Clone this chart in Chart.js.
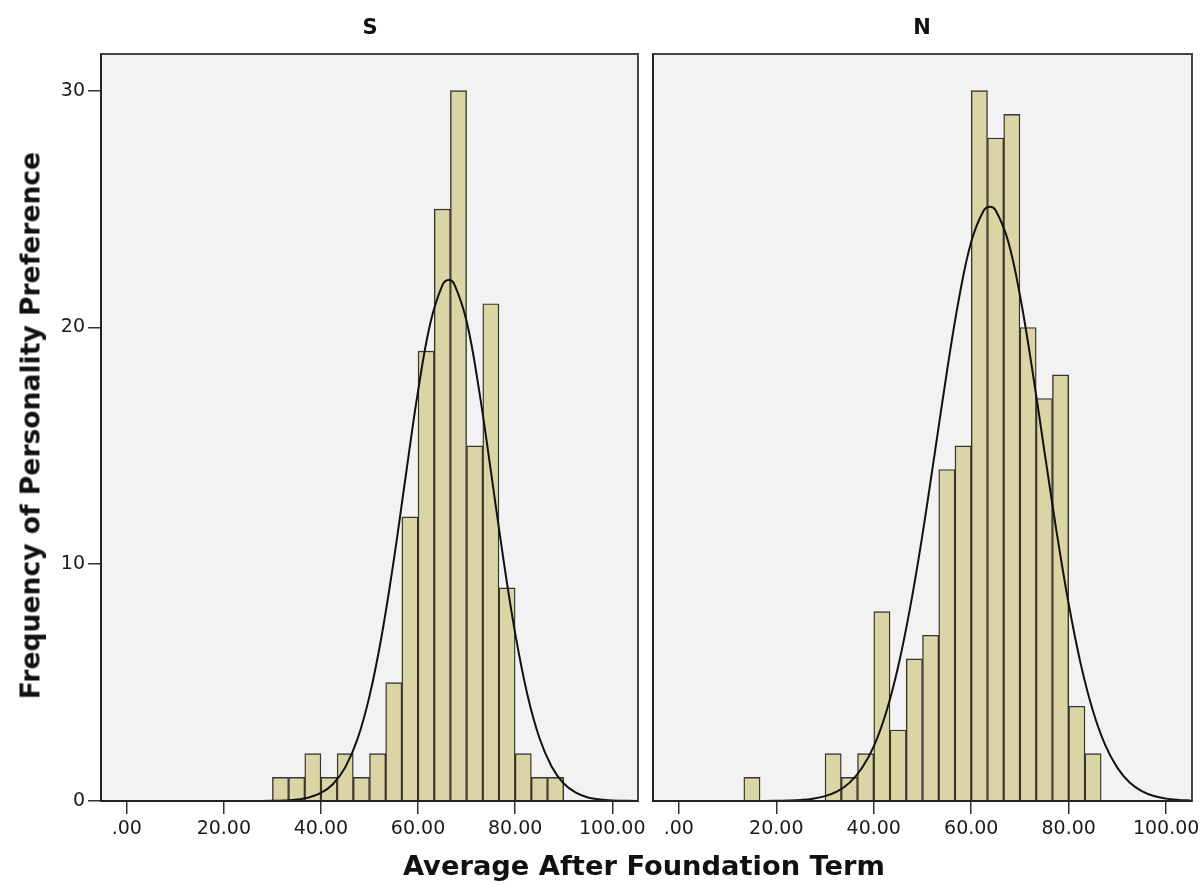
<!DOCTYPE html>
<html>
<head>
<meta charset="utf-8">
<script src="https://cdn.jsdelivr.net/npm/chart.js@4.4.1/dist/chart.umd.min.js"></script>
<style>
body{margin:0;background:#fff;width:1203px;height:886px;position:relative;overflow:hidden;font-family:"DejaVu Sans",sans-serif;}
canvas{position:absolute;top:0;}
#left{left:0;}
#right{left:645px;}
.ttl{position:absolute;font-weight:bold;color:#111;white-space:nowrap;}
</style>
</head>
<body>
<canvas id="left" width="645" height="886"></canvas>
<canvas id="right" width="558" height="886"></canvas>
<div class="ttl" style="left:320px;width:100px;text-align:center;top:15px;font-size:21px">S</div>
<div class="ttl" style="left:872px;width:100px;text-align:center;top:15px;font-size:21px">N</div>
<div class="ttl" style="left:344px;width:600px;text-align:center;top:850px;font-size:27.3px">Average After Foundation Term</div>
<div class="ttl" id="ytitle" style="left:-270px;width:600px;text-align:center;top:410px;font-size:26.6px;transform:rotate(-90deg)">Frequency of Personality Preference</div>
<script>
// histogram bins are 3.33 wide, values are bin centres
var binsS = [31.67, 35, 38.33, 41.67, 45, 48.33, 51.67, 55, 58.33, 61.67, 65, 68.33, 71.67, 75, 78.33, 81.67, 85, 88.33];
var countsS = [1, 1, 2, 1, 2, 1, 2, 5, 12, 19, 25, 30, 15, 21, 9, 2, 1, 1];

var binsN = [15, 31.67, 35, 38.33, 41.67, 45, 48.33, 51.67, 55, 58.33, 61.67, 65, 68.33, 71.67, 75, 78.33, 81.67, 85];
var countsN = [1, 2, 1, 2, 8, 3, 6, 7, 14, 15, 30, 28, 29, 20, 17, 18, 4, 2];

// normal curves
var curveS_x = [-5, 20, 25, 30, 32.5, 35, 37.5, 40, 42.5, 45, 47.5, 50, 52.5, 55, 57.5, 60, 62.5, 65, 66.3, 67.5, 70, 72.5, 75, 77.5, 80, 82.5, 85, 87.5, 90, 92.5, 95, 97.5, 100, 105];
var curveS_y = [0, 0, 0.001, 0.008, 0.022, 0.059, 0.147, 0.338, 0.72, 1.42, 2.6, 4.43, 6.97, 10.17, 13.78, 17.31, 20.16, 21.78, 22, 21.81, 20.26, 17.44, 13.93, 10.32, 7.09, 4.51, 2.66, 1.46, 0.74, 0.35, 0.15, 0.06, 0.023, 0.002];

var curveN_x = [-5, 10, 15, 20, 22.5, 25, 27.5, 30, 32.5, 35, 37.5, 40, 42.5, 45, 47.5, 50, 52.5, 55, 57.5, 60, 62.5, 63.8, 65, 67.5, 70, 72.5, 75, 77.5, 80, 82.5, 85, 87.5, 90, 92.5, 95, 97.5, 100, 102.5, 105];
var curveN_y = [0, 0, 0.001, 0.008, 0.019, 0.044, 0.098, 0.205, 0.406, 0.765, 1.37, 2.31, 3.72, 5.67, 8.21, 11.26, 14.67, 18.12, 21.24, 23.62, 24.92, 25.1, 24.95, 23.69, 21.35, 18.25, 14.8, 11.39, 8.32, 5.76, 3.79, 2.36, 1.4, 0.78, 0.42, 0.21, 0.1, 0.046, 0.02];

var xTicks = [0, 20, 40, 60, 80, 100];
var yTicks = [0, 10, 20, 30];

function pairs(xs, ys) {
	var out = [];
	for (var i = 0; i < xs.length; i++) {
		out.push({x: xs[i], y: ys[i]});
	}
	return out;
}

var panelBox = {
	id: 'panelBox',
	beforeDraw: function (chart) {
		var a = chart.chartArea, c = chart.ctx;
		c.save();
		c.fillStyle = '#f2f2f2';
		c.fillRect(a.left, a.top, a.right - a.left, a.bottom - a.top);
		c.restore();
	},
	afterDraw: function (chart) {
		var a = chart.chartArea, c = chart.ctx;
		c.save();
		c.strokeStyle = '#444';
		c.lineWidth = 2;
		c.strokeRect(a.left, a.top, a.right - a.left, a.bottom - a.top);
		c.strokeStyle = '#222';
		c.beginPath();
		c.moveTo(a.left, a.top);
		c.lineTo(a.left, a.bottom);
		c.lineTo(a.right, a.bottom);
		c.stroke();
		c.restore();
	}
};

function make_panel(id, bins, counts, cx, cy, showY, pad) {
	var ctx = document.getElementById(id);
	return new Chart(ctx, {
		type: 'bar',
		data: {
			datasets: [{
				type: 'line',
				data: pairs(cx, cy),
				borderColor: '#111',
				borderWidth: 2,
				pointRadius: 0,
				tension: 0.4,
				fill: false,
				order: 0
			}, {
				type: 'bar',
				data: pairs(bins, counts),
				backgroundColor: '#dbd5a5',
				borderColor: '#35352a',
				borderWidth: 1.4,
				barPercentage: 1,
				categoryPercentage: 1,
				order: 1
			}]
		},
		options: {
			responsive: false,
			animation: false,
			layout: {padding: pad},
			plugins: {legend: {display: false}, tooltip: {enabled: false}},
			scales: {
				x: {
					type: 'linear',
					offset: false,
					min: -5.3,
					max: 105.3,
					afterBuildTicks: function (s) { s.ticks = xTicks.map(function (v) { return {value: v}; }); },
					afterFit: function (s) { s.height = 85; s.paddingLeft = 0; s.paddingRight = 0; },
					grid: {display: true, offset: false, drawOnChartArea: false, drawTicks: true, tickLength: 13, color: '#333', lineWidth: 1.5},
					border: {display: false},
					ticks: {
						color: '#1a1a1a',
						padding: 4,
						maxRotation: 0,
						autoSkip: false,
						font: {family: 'DejaVu Sans', size: 19},
						callback: function (v) { return v === 0 ? '.00' : v.toFixed(2); }
					}
				},
				y: {
					display: showY,
					min: 0,
					max: 31.55,
					afterBuildTicks: function (s) { s.ticks = yTicks.map(function (v) { return {value: v}; }); },
					afterFit: function (s) { s.width = showY ? 101 : 0; s.paddingTop = 0; s.paddingBottom = 0; },
					grid: {display: true, drawOnChartArea: false, drawTicks: true, tickLength: 13, color: '#333', lineWidth: 1.5},
					border: {display: false},
					ticks: {
						color: '#1a1a1a',
						padding: 3,
						font: {family: 'DejaVu Sans', size: 19}
					}
				}
			}
		},
		plugins: [panelBox]
	});
}

make_panel('left', binsS, countsS, curveS_x, curveS_y, true, {left: 0, top: 54, right: 7, bottom: 0});
make_panel('right', binsN, countsN, curveN_x, curveN_y, false, {left: 8, top: 54, right: 11, bottom: 0});
</script>
</body>
</html>
